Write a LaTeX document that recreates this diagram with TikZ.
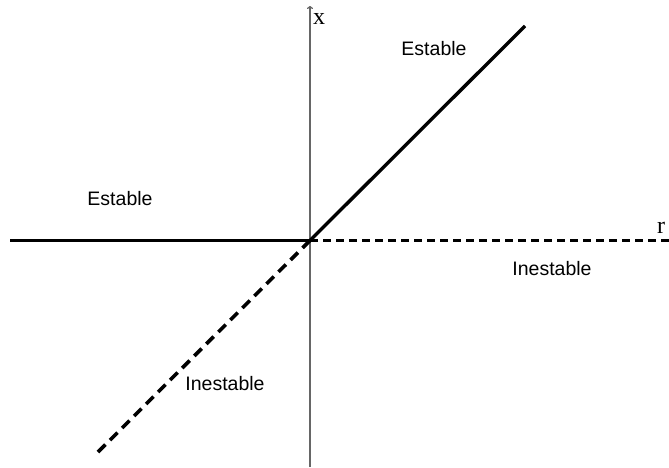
\documentclass[tikz,border=0pt]{standalone}
\usepackage{fontspec}
\setmainfont{Liberation Sans}
\newfontfamily\serifface{Liberation Serif}
\usetikzlibrary{arrows.meta}
\begin{document}
\begin{tikzpicture}[x=1pt,y=-1pt,
  axisline/.style={draw=gray!80!black,line width=1.2pt},
  branch/.style={line width=3.4pt,black},
  unstablebranch/.style={line width=3.2pt,black,dash pattern=on 8pt off 5pt},
  unstablediag/.style={line width=3.6pt,black,dash pattern=on 10.5pt off 6.5pt},
  lbl/.style={font=\fontsize{19.5}{22}\selectfont,inner sep=0pt},
  axlbl/.style={font=\serifface\fontsize{24}{27}\selectfont,inner sep=0pt}]
\useasboundingbox (0,0) rectangle (669,467);
\coordinate (O) at (310,240.5);
\coordinate (ytop) at (310,6);
\coordinate (ybot) at (310,467);
\coordinate (left) at (10,240.5);
\coordinate (right) at (669,240.5);
\coordinate (ur) at (525,26);
\coordinate (ll) at (95,455);
\draw[axisline,-{To[length=3pt,width=6pt]}] (ybot) -- (ytop);
\node[axlbl] (xl) at (319,19) {x};
\node[axlbl] (rl) at (661,228) {r};
\draw[branch] (left) -- (O);
\draw[branch] (O) -- (ur);
\draw[unstablebranch] (O) -- (right);
\draw[unstablediag] (O) -- (ll);
\node[lbl] (e1) at (434,49) {Estable};
\node[lbl] (e2) at (120,199) {Estable};
\node[lbl] (i1) at (552,269) {Inestable};
\node[lbl] (i2) at (225,384) {Inestable};
\end{tikzpicture}
\end{document}
